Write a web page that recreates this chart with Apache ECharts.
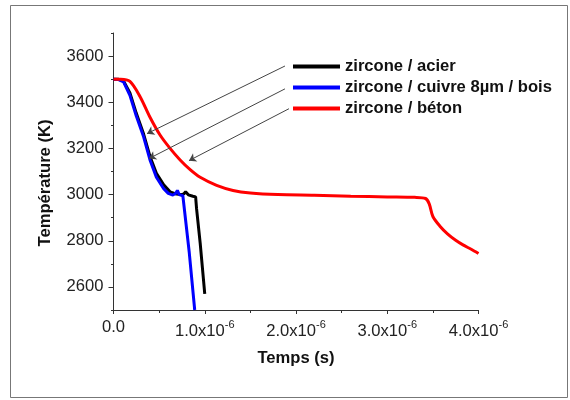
<!DOCTYPE html>
<html>
<head>
<meta charset="utf-8">
<script src="https://cdn.jsdelivr.net/npm/echarts@6/dist/echarts.min.js"></script>
<style>html,body{margin:0;padding:0;background:#fff}#c{width:570px;height:400px}</style>
</head>
<body>
<div id="c"></div>
<script>
// Series names
const seriesNames = ['zircone / acier', 'zircone / cuivre 8µm / bois', 'zircone / béton'];
// [time (s), temperature (K)]
const acier = [
  [0,3500],[0.05e-6,3500],[0.11e-6,3492],[0.18e-6,3440],[0.25e-6,3352],[0.33e-6,3262],
  [0.40e-6,3165],[0.47e-6,3092],[0.55e-6,3042],[0.62e-6,3012],[0.69e-6,3002],[0.74e-6,3000],
  [0.77e-6,3003],[0.79e-6,3012],[0.82e-6,2999],[0.84e-6,3003],[0.87e-6,2993],[0.90e-6,2990],
  [0.91e-6,2940],[0.95e-6,2790],[1.0e-6,2570]
];
const cuivreBois = [
  [0,3500],[0.05e-6,3499],[0.11e-6,3488],[0.18e-6,3430],[0.25e-6,3340],[0.33e-6,3250],
  [0.40e-6,3150],[0.47e-6,3075],[0.55e-6,3025],[0.60e-6,3005],[0.65e-6,2998],[0.68e-6,3005],
  [0.70e-6,3018],[0.72e-6,3000],[0.74e-6,3008],[0.76e-6,2995],[0.775e-6,2992],[0.83e-6,2750],
  [0.89e-6,2500]
];
const beton = [
  [0,3500],[0.08e-6,3500],[0.18e-6,3490],[0.29e-6,3425],[0.40e-6,3335],[0.51e-6,3258],
  [0.62e-6,3200],[0.73e-6,3150],[0.84e-6,3108],[0.95e-6,3075],[1.13e-6,3040],[1.31e-6,3018],
  [1.50e-6,3007],[1.8e-6,3000],[2.2e-6,2997],[2.6e-6,2993],[3.0e-6,2990],[3.3e-6,2988],
  [3.42e-6,2983],[3.46e-6,2960],[3.50e-6,2905],[3.58e-6,2862],[3.66e-6,2830],[3.75e-6,2802],
  [3.83e-6,2782],[3.92e-6,2763],[4.0e-6,2745]
];
// Annotation arrows: [from, to] in data coordinates
const arrows = [
  [[1.879e-6,3557],[0.367e-6,3264]],
  [[1.879e-6,3458],[0.389e-6,3156]],
  [[1.923e-6,3372],[0.827e-6,3147]]
];
const yLabelValues = [2600,2800,3000,3200,3400,3600];

const FONT = '"Liberation Sans", Arial, sans-serif';
const chart = echarts.init(document.getElementById('c'), null, {renderer:'canvas'});

function xLabel(v){
  const m = v * 1e6;
  if (Math.abs(m) < 1e-9) return '{n|0.0}';
  return '{n|' + m.toFixed(1) + 'x10}{s|-6}';
}

const option = {
  animation: false,
  backgroundColor: '#fff',
  textStyle: {fontFamily: FONT},
  graphic: [{
    type: 'rect', shape: {x: 10.5, y: 5.5, width: 557, height: 392},
    style: {fill: 'none', stroke: '#777', lineWidth: 1}, silent: true, z: -1
  }],
  grid: {left: 113.5, right: 91.5, top: 33, bottom: 90, containLabel: false},
  legend: {
    orient: 'vertical', left: 293, top: 56, padding: 0,
    itemWidth: 47, itemHeight: 4, itemGap: 0,
    icon: 'rect',
    textStyle: {fontFamily: FONT, fontSize: 16.6, fontWeight: 'bold', color: '#111', lineHeight: 21},
    data: seriesNames
  },
  xAxis: {
    type: 'value', min: 0, max: 4e-6, interval: 1e-6,
    name: 'Temps (s)', nameLocation: 'middle', nameGap: 40,
    nameTextStyle: {fontFamily: FONT, fontSize: 16.6, fontWeight: 'bold', color: '#111'},
    axisLine: {show: true, lineStyle: {color: '#333', width: 1}},
    axisTick: {show: true, length: 4, lineStyle: {color: '#333'}},
    minorTick: {show: true, splitNumber: 2, length: 3, lineStyle: {color: '#333'}},
    splitLine: {show: false},
    axisLabel: {
      margin: 9, formatter: xLabel, color: '#222',
      rich: {
        n: {fontFamily: FONT, fontSize: 16.6, color: '#222'},
        s: {fontFamily: FONT, fontSize: 11, color: '#222', padding: [0,0,14,0]}
      }
    }
  },
  yAxis: [{
    type: 'value', min: 2500, max: 3700, interval: 100,
    name: 'Température (K)', nameLocation: 'middle', nameGap: 60,
    nameTextStyle: {fontFamily: FONT, fontSize: 16.6, fontWeight: 'bold', color: '#111', padding: [0, 23, 0, 0]},
    axisLine: {show: true, lineStyle: {color: '#333', width: 1}},
    axisTick: {show: true, length: 2.5, lineStyle: {color: '#333'}},
    splitLine: {show: false},
    axisLabel: {
      margin: 10, fontFamily: FONT, fontSize: 16.6, color: '#222',
      customValues: yLabelValues,
      formatter: v => String(v)
    }
  }, {
    type: 'value', min: 2500, max: 3700, interval: 100, position: 'left',
    axisLine: {show: false},
    axisTick: {show: true, length: 5, customValues: yLabelValues, lineStyle: {color: '#333'}},
    axisLabel: {show: false},
    splitLine: {show: false}
  }],
  series: [
    {
      name: seriesNames[0], type: 'line', data: acier, showSymbol: false, symbol: 'none',
      lineStyle: {color: '#000', width: 3}, itemStyle: {color: '#000'}, z: 2
    },
    {
      name: seriesNames[1], type: 'line', data: cuivreBois, showSymbol: false, symbol: 'none',
      lineStyle: {color: '#0000ff', width: 3}, itemStyle: {color: '#0000ff'}, z: 3
    },
    {
      name: seriesNames[2], type: 'line', data: beton, showSymbol: false, symbol: 'none', smooth: 0.3,
      lineStyle: {color: '#ff0000', width: 3}, itemStyle: {color: '#ff0000'}, z: 4,
      markLine: {
        silent: true, animation: false,
        symbol: ['none', 'arrow'], symbolSize: 7,
        label: {show: false},
        lineStyle: {color: '#444', width: 1, type: 'solid'},
        emphasis: {disabled: true},
        data: arrows.map(a => [{coord: a[0]}, {coord: a[1]}])
      }
    }
  ]
};
chart.setOption(option);
</script>
</body>
</html>
